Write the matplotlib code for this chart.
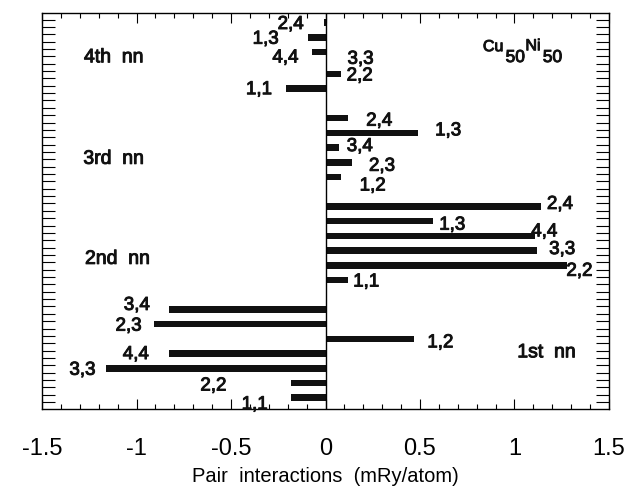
import matplotlib
matplotlib.use('Agg')
import matplotlib.pyplot as plt
import matplotlib.patheffects as pe
from matplotlib.ticker import MultipleLocator, NullFormatter

plt.rcParams['font.family'] = ['Liberation Sans', 'DejaVu Sans']

# pair interactions (mRy/atom) for each shell
pairs_1st = ['1,1', '2,2', '3,3', '4,4', '1,2', '2,3', '3,4']
vals_1st = [-0.18, -0.18, -1.16, -0.83, 0.47, -0.91, -0.83]

pairs_2nd = ['1,1', '2,2', '3,3', '4,4', '1,3', '2,4']
vals_2nd = [0.12, 1.28, 1.12, 1.11, 0.57, 1.14]

pairs_3rd = ['1,2', '2,3', '3,4', '1,3', '2,4']
vals_3rd = [0.08, 0.14, 0.07, 0.49, 0.12]

pairs_4th = ['1,1', '2,2', '3,3', '4,4', '1,3', '2,4']
vals_4th = [-0.21, 0.08, 0.0, -0.07, -0.09, -0.01]

group_names = ['1st  nn', '2nd  nn', '3rd  nn', '4th  nn']

# layout: row slots of each group (bottom to top) and label nudges (px gap, px down)
slots = [[0, 1, 2, 3, 4, 5, 6],
         [8, 9, 10, 11, 12, 13],
         [15, 16, 17, 18, 19],
         [21, 22, 23, 23.5, 24.5, 25.5]]
nudges = [[(24, 7), (65, 3), (11, 2), (20, 1), (13, 4), (12, 2), (19, -4)],
          [(5, 2), (-1, 6), (12, -1), (-4, -4), (6, 4), (6, -2)],
          [(19, 9), (17, 4), (8, -1), (17, -2), (18, 3)],
          [(14, 1), (6, 2), (22, 0), (14, 6), (30, 2), (20, 2)]]
group_label_pos = [(1.17, 3.05), (-1.10, 9.4), (-1.12, 16.2), (-1.12, 23.1)]

pairs = [pairs_1st, pairs_2nd, pairs_3rd, pairs_4th]
vals = [vals_1st, vals_2nd, vals_3rd, vals_4th]

ink = '#111111'
heavy = [pe.withStroke(linewidth=0.7, foreground=ink)]

fig = plt.figure(figsize=(6.37, 4.86), dpi=100)
ax = fig.add_axes([0.066, 0.159, 0.890, 0.815])

px2pt = 72 / 100
for g in range(4):
    ax.barh(slots[g], vals[g], height=0.45, color=ink, edgecolor='none')
    for y, v, lab, (dx, dy) in zip(slots[g], vals[g], pairs[g], nudges[g]):
        if v >= 0:
            ha, off = 'left', dx
        else:
            ha, off = 'right', -dx
        ax.annotate(lab, xy=(v, y), xytext=(off * px2pt, -dy * px2pt),
                    textcoords='offset points', ha=ha, va='center',
                    fontsize=13.5, color=ink, path_effects=heavy)
    gx, gy = group_label_pos[g]
    ax.text(gx, gy, group_names[g], ha='center', va='center', fontsize=14,
            color=ink, path_effects=heavy)

# Cu50Ni50 with full-size subscripts
ax.text(0.833, 23.86, 'Cu', ha='left', va='center', fontsize=11.5, color=ink,
        path_effects=heavy)
ax.text(0.953, 23.12, '50', ha='left', va='center', fontsize=12.5, color=ink,
        path_effects=heavy)
ax.text(1.058, 23.92, 'Ni', ha='left', va='center', fontsize=11.5, color=ink,
        path_effects=heavy)
ax.text(1.150, 23.12, '50', ha='left', va='center', fontsize=12.5, color=ink,
        path_effects=heavy)

ax.axvline(0, color='black', lw=1.0)

ax.set_xlim(-1.5, 1.5)
ax.set_ylim(-0.75, 26.17)

ax.xaxis.set_minor_locator(MultipleLocator(0.1))
ax.set_xticks([-1.5, -1, -0.5, 0, 0.5, 1, 1.5])
ax.set_xticklabels(['-1.5', '-1', '-0.5', '0', '0.5', '1', '1.5'])
ax.yaxis.set_major_locator(MultipleLocator(0.5, offset=0.2))
ax.yaxis.set_major_formatter(NullFormatter())

ax.tick_params(axis='x', which='major', direction='in', top=True, bottom=True,
               length=7, width=0.8, labelsize=17, pad=21)
ax.tick_params(axis='x', which='minor', direction='in', top=True, bottom=True,
               length=3.5, width=0.8)
ax.tick_params(axis='y', which='major', direction='in', left=True, right=True,
               length=9.5, width=0.8)

for s in ax.spines.values():
    s.set_linewidth(1.0)

ax.set_xlabel('Pair  interactions  (mRy/atom)', fontsize=14.5, labelpad=5)

fig.savefig('out.png', dpi=100)
